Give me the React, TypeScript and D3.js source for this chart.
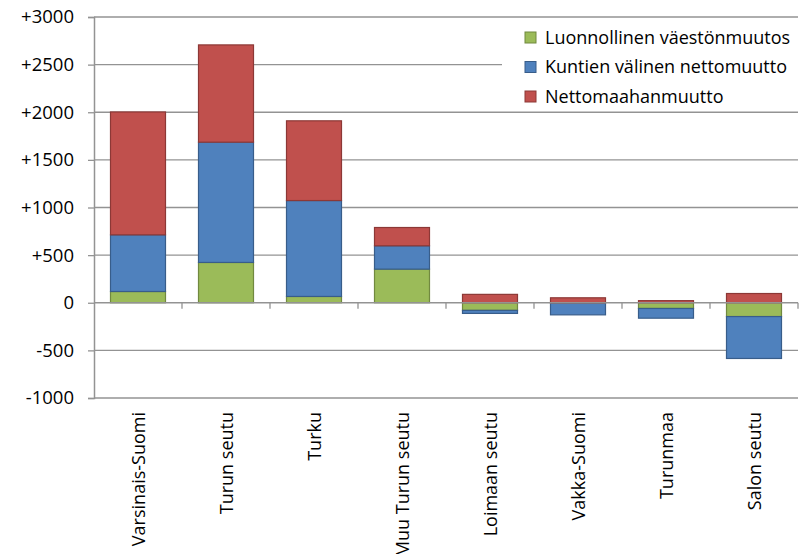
import { useEffect, useRef } from "react";
import * as d3 from "d3";

const regions = [
  "Varsinais-Suomi",
  "Turun seutu",
  "Turku",
  "Muu Turun seutu",
  "Loimaan seutu",
  "Vakka-Suomi",
  "Turunmaa",
  "Salon seutu",
];

const seriesNames = [
  "Luonnollinen väestönmuutos",
  "Kuntien välinen nettomuutto",
  "Nettomaahanmuutto",
];

const luonnollinen = [118, 423, 66, 353, -80, -5, -60, -145];
const kuntienValinen = [595, 1263, 1007, 245, -32, -122, -102, -440];
const maahanmuutto = [1290, 1021, 837, 192, 88, 52, 22, 97];

const yTicks = [-1000, -500, 0, 500, 1000, 1500, 2000, 2500, 3000];

const fills = ["#9bbb59", "#4f81bd", "#c0504d"];
const strokes = ["#71893f", "#385d8a", "#8c3836"];

const FONT = "'Open Sans', 'Liberation Sans', sans-serif";

export default function App() {
  const svgRef = useRef<SVGSVGElement>(null);

  useEffect(() => {
    if (!svgRef.current) return;
    const width = 805;
    const height = 554;
    const margin = { top: 17, right: 7, left: 94 };
    const plotBottom = 398;

    const svg = d3.select(svgRef.current);
    svg.selectAll("*").remove();

    const x = d3.scaleBand()
      .domain(regions)
      .range([margin.left, width - margin.right])
      .paddingInner(0.375)
      .paddingOuter(0.1875);

    const y = d3.scaleLinear()
      .domain([-1000, 3000])
      .range([plotBottom, margin.top]);

    const rows = regions.map((r, i) => ({
      region: r,
      s0: luonnollinen[i],
      s1: kuntienValinen[i],
      s2: maahanmuutto[i],
    }));

    const stack = d3.stack<any>()
      .keys(["s0", "s1", "s2"])
      .offset(d3.stackOffsetDiverging);
    const series = stack(rows);

    // gridlines
    svg.append("g")
      .selectAll("line")
      .data(yTicks.filter(t => t !== 0))
      .join("line")
      .attr("x1", margin.left)
      .attr("x2", width - margin.right)
      .attr("y1", d => y(d))
      .attr("y2", d => y(d))
      .attr("stroke", "#939393")
      .attr("stroke-width", 1.3);

    // y axis
    const yAxis = svg.append("g")
      .attr("transform", `translate(${margin.left},0)`)
      .call(d3.axisLeft(y).tickValues(yTicks).tickSize(6).tickPadding(14)
        .tickFormat(d => (+d > 0 ? "+" : "") + d));
    yAxis.select(".domain").attr("stroke", "#939393").attr("stroke-width", 1.5);
    yAxis.selectAll(".tick line").attr("stroke", "#939393").attr("stroke-width", 1.3);
    yAxis.selectAll("text")
      .attr("font-family", FONT)
      .attr("font-size", 18.5)
      .attr("fill", "#000");

    // bars
    series.forEach((s, si) => {
      svg.append("g")
        .selectAll("rect")
        .data(s)
        .join("rect")
        .attr("x", d => x(d.data.region) as number)
        .attr("width", x.bandwidth())
        .attr("y", d => y(Math.max(d[0], d[1])))
        .attr("height", d => Math.abs(y(d[0]) - y(d[1])))
        .attr("fill", fills[si])
        .attr("stroke", strokes[si])
        .attr("stroke-width", 1.2);
    });

    // zero axis with category ticks
    const step = x.step();
    const boundaries = d3.range(regions.length + 1).map(i => margin.left + i * step);
    svg.append("line")
      .attr("x1", margin.left)
      .attr("x2", width - margin.right)
      .attr("y1", y(0))
      .attr("y2", y(0))
      .attr("stroke", "#939393")
      .attr("stroke-width", 1.5);
    svg.append("g")
      .selectAll("line")
      .data(boundaries.slice(1))
      .join("line")
      .attr("x1", d => d)
      .attr("x2", d => d)
      .attr("y1", y(0))
      .attr("y2", y(0) + 6)
      .attr("stroke", "#939393")
      .attr("stroke-width", 1.3);

    // category labels
    svg.append("g")
      .selectAll("text")
      .data(regions)
      .join("text")
      .attr("transform", d => `translate(${(x(d) as number) + x.bandwidth() / 2 + 6.5},412) rotate(-90)`)
      .attr("text-anchor", "end")
      .attr("font-family", FONT)
      .attr("font-size", 18)
      .attr("fill", "#000")
      .text(d => d);

    // legend
    const lg = svg.append("g");
    lg.append("rect")
      .attr("x", 502)
      .attr("y", y(3000) + 2)
      .attr("width", width - margin.right - 502)
      .attr("height", y(2000) - y(3000) - 4)
      .attr("fill", "#fff");
    seriesNames.forEach((name, i) => {
      const cy = 37 + i * 29.5;
      lg.append("rect")
        .attr("x", 525)
        .attr("y", cy - 5)
        .attr("width", 11)
        .attr("height", 11)
        .attr("fill", fills[i])
        .attr("stroke", strokes[i])
        .attr("stroke-width", 1);
      lg.append("text")
        .attr("x", 545)
        .attr("y", cy + 6.5)
        .attr("font-family", FONT)
        .attr("font-size", 18)
        .attr("fill", "#000")
        .text(name);
    });
  }, []);

  return (
    <svg
      ref={svgRef}
      width={805}
      height={554}
      style={{ position: "absolute", left: 0, top: 0, background: "#fff" }}
    />
  );
}
